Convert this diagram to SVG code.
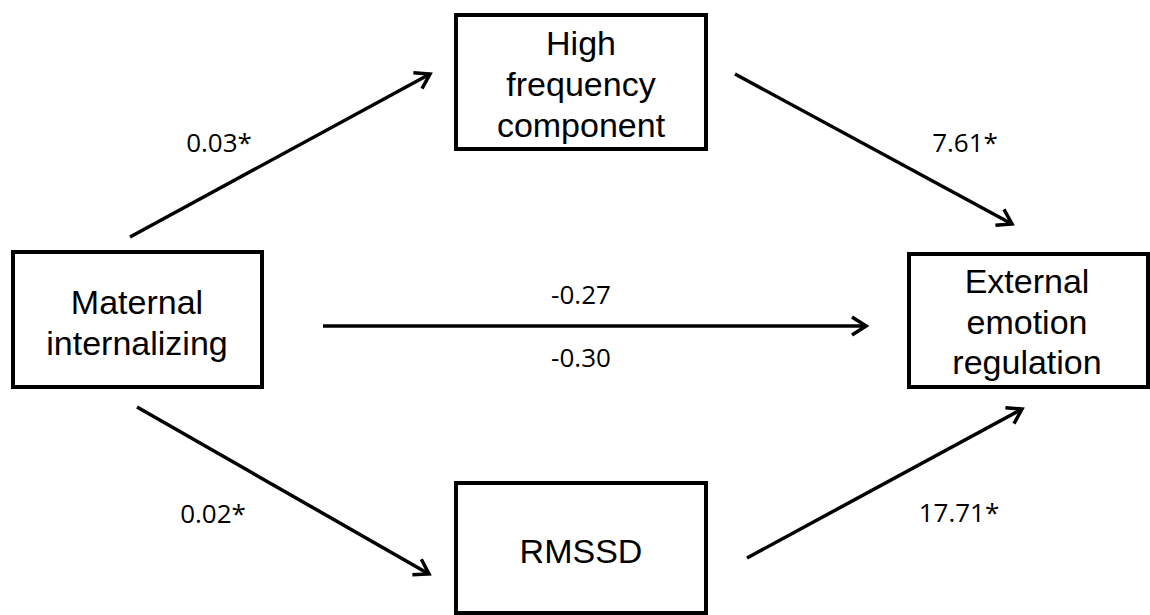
<svg xmlns="http://www.w3.org/2000/svg" width="1150" height="615" viewBox="0 0 1150 615">
<style>
.box{fill:#fff;stroke:#000;stroke-width:4}
.nt{font-family:"Liberation Sans",Arial,sans-serif;font-size:34px;fill:#000;text-anchor:middle}
.lb{font-family:"Open Sans","Noto Sans",sans-serif;font-size:26px;fill:#000;text-anchor:middle}
.ar{stroke:#000;stroke-width:3.5;fill:none;marker-end:url(#ah)}
</style>
<defs>
<marker id="ah" markerUnits="userSpaceOnUse" viewBox="0 0 24 24" refX="21" refY="12" markerWidth="24" markerHeight="24" orient="auto">
<path d="M7,3 L21,12 L7,21" fill="none" stroke="#000" stroke-width="3.5"/>
</marker>
</defs>
<rect width="1150" height="615" fill="#fff"/>
<g id="connectors">
<line class="ar" x1="130" y1="237" x2="430" y2="74"/>
<line class="ar" x1="735" y1="74" x2="1012" y2="224"/>
<line class="ar" x1="323" y1="326" x2="866" y2="326"/>
<line class="ar" x1="137" y1="407" x2="429" y2="574"/>
<line class="ar" x1="747" y1="558" x2="1022" y2="409"/>
<text class="lb" x="219" y="152">0.03*</text>
<text class="lb" x="965" y="152">7.61*</text>
<text class="lb" x="581" y="304">-0.27</text>
<text class="lb" x="581" y="367">-0.30</text>
<text class="lb" x="213" y="523">0.02*</text>
<text class="lb" x="959" y="522">17.71*</text>
</g>
<g id="maternal">
<rect class="box" x="13" y="252" width="249" height="135"/>
<text class="nt" x="137" y="314">Maternal</text>
<text class="nt" x="137" y="355">internalizing</text>
</g>
<g id="hf">
<rect class="box" x="456" y="15" width="250" height="134"/>
<text class="nt" x="581" y="55">High</text>
<text class="nt" x="581" y="96">frequency</text>
<text class="nt" x="581" y="137">component</text>
</g>
<g id="rmssd">
<rect class="box" x="456" y="483" width="250" height="130"/>
<text class="nt" x="581" y="563">RMSSD</text>
</g>
<g id="external">
<rect class="box" x="909" y="254" width="239" height="133"/>
<text class="nt" x="1027" y="293">External</text>
<text class="nt" x="1027" y="334">emotion</text>
<text class="nt" x="1027" y="374">regulation</text>
</g>
</svg>
